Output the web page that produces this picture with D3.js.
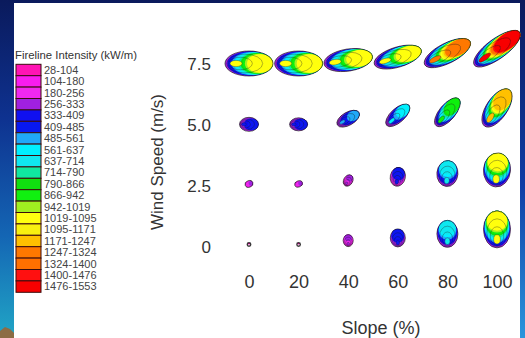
<!DOCTYPE html>
<html><head><meta charset="utf-8">
<script src="https://cdn.jsdelivr.net/npm/d3@7"></script>
<style>
html,body{margin:0;padding:0;overflow:hidden;background:#0b1d63;}
svg{display:block;}
</style></head><body>
<svg id="chart" width="525" height="338"></svg>
<script>
// ---------- data ----------
const slopes = [0, 20, 40, 60, 80, 100];
const slopeLabels = ["0", "20", "40", "60", "80", "100"];
const winds = [0, 2.5, 5.0, 7.5];
const windLabels = ["0", "2.5", "5.0", "7.5"];

const legendLabels = ["28-104","104-180","180-256","256-333","333-409","409-485","485-561","561-637",
  "637-714","714-790","790-866","866-942","942-1019","1019-1095","1095-1171","1171-1247",
  "1247-1324","1324-1400","1400-1476","1476-1553"];
const legendColors = ["#ff14b4","#f81cf0","#f028f0","#a020e0","#1010f0","#0818f0","#20a8f8","#00f0ff",
  "#10e8f0","#10e8a0","#10e010","#10f010","#a0f020","#ffff10","#f8f010","#ffc000",
  "#ff7800","#ff7000","#ff1010","#f80000"];

// rows: wind 0, 2.5, 5.0, 7.5 ; columns: slope 0 .. 100
const fireLength = [
  [3.5, 3.5, 12, 18, 27, 37],
  [8, 8, 12, 19, 26, 34],
  [19, 18, 25, 30, 35, 44],
  [48, 48, 49, 49, 51, 56]];
const fireWidth = [
  [3.5, 3.5, 10, 15, 21, 27],
  [6.5, 6, 9, 15, 21, 27],
  [14, 13, 13, 14, 16, 21],
  [25, 25, 22, 20, 20, 20]];
const headingDeg = [
  [90, 90, 90, 90, 90, 90],
  [20, 20, 60, 78, 85, 85],
  [0, 0, 30, 42, 50, 56],
  [0, 0, 9, 17, 27, 36]];
const headIntensity = [
  [80, 80, 260, 440, 650, 1060],
  [270, 270, 300, 430, 650, 1060],
  [470, 470, 540, 620, 870, 1200],
  [1060, 1060, 1065, 1085, 1260, 1480]];
const backIntensity = [
  [60, 60, 150, 260, 270, 270],
  [150, 150, 150, 200, 270, 270],
  [290, 290, 290, 290, 290, 290],
  [300, 300, 300, 300, 300, 300]];

// ---------- setup ----------
const svg = d3.select("#chart");
const FONT = "'Liberation Sans', Arial, Helvetica, sans-serif";
const defs = svg.append("defs");

const gl = defs.append("linearGradient").attr("id","bgL").attr("x1",0).attr("y1",0).attr("x2",0).attr("y2",1);
[["0%","#0a1a5c"],["35%","#0e3290"],["70%","#1466b4"],["100%","#21a6c6"]].forEach(s=>gl.append("stop").attr("offset",s[0]).attr("stop-color",s[1]));
const gr = defs.append("linearGradient").attr("id","bgR").attr("x1",0).attr("y1",0).attr("x2",0).attr("y2",1);
[["0%","#0a1a5c"],["55%","#0f3ea6"],["100%","#2a96dc"]].forEach(s=>gr.append("stop").attr("offset",s[0]).attr("stop-color",s[1]));
defs.append("filter").attr("id","soft").attr("x","-20%").attr("y","-20%").attr("width","140%").attr("height","140%")
  .append("feGaussianBlur").attr("stdDeviation",0.35);

svg.append("rect").attr("width",525).attr("height",338).attr("fill","url(#bgL)");
svg.append("rect").attr("x",520).attr("width",5).attr("height",338).attr("fill","url(#bgR)");
svg.append("rect").attr("x",14).attr("y",3).attr("width",506).attr("height",335).attr("fill","#ffffff");
svg.append("path").attr("d","M0,338L0,331L5,327L10,329L14,333L14,338Z").attr("fill","#8c6c44");

// ---------- scales ----------
const x = d3.scaleLinear().domain([0, 100]).range([249, 497]);
const y = d3.scaleLinear().domain([0, 7.5]).range([246, 63.5]);
const thresholds = legendLabels.slice(0, -1).map(l => +l.split("-")[1]);
const color = d3.scaleThreshold().domain(thresholds).range(legendColors);
const classOf = v => d3.bisectRight(thresholds, v);

// ---------- legend ----------
const leg = svg.append("g");
leg.append("text").attr("x",15).attr("y",59).attr("font-family",FONT).attr("font-size",11)
  .attr("textLength",122).attr("lengthAdjust","spacingAndGlyphs")
  .attr("fill","#333").text("Fireline Intensity (kW/m)");
const sy = d3.scaleBand().domain(d3.range(legendLabels.length)).range([64.3, 292.3]);
leg.selectAll("rect.sw").data(legendColors).join("rect").attr("class","sw")
  .attr("x",16).attr("y",(d,i)=>sy(i)).attr("width",25).attr("height",sy.bandwidth())
  .attr("fill",d=>d).attr("stroke","#3a0c0c").attr("stroke-width",1);
leg.selectAll("text.lb").data(legendLabels).join("text").attr("class","lb")
  .attr("x",44).attr("y",(d,i)=>sy(i)+sy.bandwidth()/2).attr("dy","0.35em")
  .attr("font-family",FONT).attr("font-size",11).attr("fill","#444").text(d=>d);

// ---------- axes ----------
const xa = svg.append("g").attr("transform","translate(0,282)")
  .call(d3.axisBottom(x).tickValues(slopes).tickSize(0).tickPadding(0).tickFormat((d,i)=>slopeLabels[i]));
xa.select(".domain").remove();
xa.selectAll("text").attr("dy","0.36em").attr("font-family",FONT).attr("font-size",18).attr("fill","#333");

const ya = svg.append("g").attr("transform","translate(211,0)")
  .call(d3.axisLeft(y).tickValues(winds).tickSize(0).tickPadding(0).tickFormat((d,i)=>windLabels[i]));
ya.select(".domain").remove();
ya.selectAll("text").attr("dy","0.36em").attr("font-family",FONT).attr("font-size",17).attr("fill","#333");

svg.append("text").attr("transform","translate(157,162) rotate(-90)").attr("text-anchor","middle")
  .attr("dy","0.35em").attr("font-family",FONT).attr("font-size",17).attr("fill","#333").text("Wind Speed (m/s)");
svg.append("text").attr("x",381).attr("y",328).attr("text-anchor","middle").attr("dy","0.35em")
  .attr("font-family",FONT).attr("font-size",18).attr("fill","#333").text("Slope (%)");

// ---------- fire shapes ----------
const cells = [];
winds.forEach((w, i) => slopes.forEach((s, j) => cells.push({
  w, s, L: fireLength[i][j], W: fireWidth[i][j], deg: headingDeg[i][j],
  head: headIntensity[i][j], back: backIntensity[i][j]})));

const shapes = svg.append("g").attr("filter","url(#soft)");
const g = shapes.selectAll("g.fire").data(cells).join("g").attr("class","fire")
  .attr("transform", d => {
    const a = d.deg * Math.PI / 180;
    const cx = x(d.s), cy = y(d.w) - 0.45 * d.L * Math.sin(a);
    return `translate(${cx},${cy}) rotate(${-d.deg})`;
  });

g.each(function(d) {
  const el = d3.select(this);
  const a = d.L / 2, b = d.W / 2;
  const bc = classOf(d.back), hc = classOf(d.head);
  const bands = d3.range(bc, hc + 1).map(c => ({c, u: hc === bc ? 1 : (c - bc) / (hc - bc)}));
  el.selectAll("ellipse.band").data(bands).join("ellipse").attr("class","band")
    .attr("cx", q => a - a * (1 - 0.46 * q.u))
    .attr("cy", 0)
    .attr("rx", q => a * (1 - 0.46 * q.u))
    .attr("ry", q => b * (1 - 0.24 * q.u))
    .attr("fill", q => legendColors[q.c]);
  if (d.L >= 10) {
    const ig = -a + 0.14 * d.L;
    const rings = [0.75, 0.5, 0.25];
    el.selectAll("ellipse.ring").data(rings).join("ellipse").attr("class","ring")
      .attr("cx", s => ig * (1 - s)).attr("cy", 0)
      .attr("rx", s => s * a).attr("ry", s => s * b)
      .attr("fill", s => s === 0.25 ? color(d.head) : "none")
      .attr("stroke", "#1a1a1a").attr("stroke-opacity", 0.55).attr("stroke-width", 0.6);
  }
  el.append("ellipse").attr("cx",0).attr("cy",0).attr("rx",a).attr("ry",b)
    .attr("fill","none").attr("stroke","#1a1a1a").attr("stroke-opacity",0.85)
    .attr("stroke-width", d.L < 6 ? 1.4 : 0.8);
});
</script>
</body></html>
